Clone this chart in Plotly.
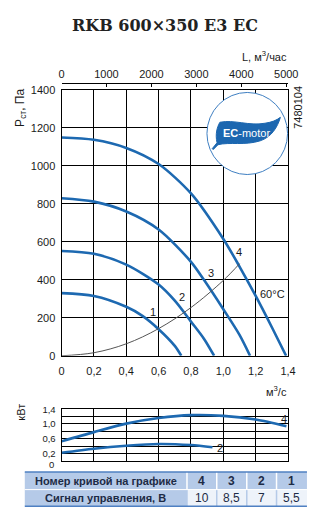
import plotly.graph_objects as go

W, H = 323, 521

# ---------------- data ----------------
flow_ticks = [0, 0.2, 0.4, 0.6, 0.8, 1.0, 1.2, 1.4]
flow_tick_labels = ["0", "0,2", "0,4", "0,6", "0,8", "1,0", "1,2", "1,4"]
pres_ticks = [0, 200, 400, 600, 800, 1000, 1200, 1400]
L_ticks = [0, 1000, 2000, 3000, 4000, 5000]
L_tick_labels = ["0", "1000", "2000", "3000", "4000", "5000"]
pow_ticks = [0.2, 0.6, 1.0, 1.4]
pow_tick_labels = ["0,2", "0,6", "1,0", "1,4"]
pow_zero_label = "0"

q4 = [0, 0.2, 0.4, 0.6, 0.8, 1.0, 1.1, 1.2, 1.3, 1.388]
p4 = [1150, 1138, 1095, 1010, 855, 615, 470, 315, 150, 0]
q3 = [0, 0.2, 0.4, 0.6, 0.8, 0.88, 1.0, 1.1, 1.165]
p3 = [830, 812, 760, 665, 495, 400, 245, 110, 0]
q2 = [0, 0.2, 0.4, 0.6, 0.7, 0.8, 0.88, 0.943]
p2 = [552, 537, 480, 375, 290, 180, 90, 0]
q1 = [0, 0.2, 0.4, 0.5, 0.6, 0.7, 0.74]
p1 = [330, 315, 258, 210, 140, 52, 0]
q_sys = [0, 0.2, 0.4, 0.6, 0.8, 1.0, 1.1]
p_sys = [0, 16, 63, 143, 254, 397, 485]

qw4 = [0, 0.2, 0.4, 0.6, 0.8, 1.0, 1.2, 1.39]
w4 = [0.53, 0.78, 1.01, 1.16, 1.24, 1.22, 1.12, 0.94]
qw2 = [0, 0.2, 0.4, 0.6, 0.8, 0.933]
w2 = [0.22, 0.33, 0.41, 0.46, 0.43, 0.37]

curve_numbers = ["4", "3", "2", "1"]
signals = ["10", "8,5", "7", "5,5"]
row_titles = ["Номер кривой на графике", "Сигнал управления, В"]

BLUE = "#1d69b1"
FONT = "Liberation Sans"
TXT = "#1a1a1a"


def xp(px):
    return px / W


def yp(py):
    return 1 - py / H


fig = go.Figure()

for q, p in [(q4, p4), (q3, p3), (q2, p2), (q1, p1)]:
    fig.add_trace(go.Scatter(x=q, y=p, mode="lines", line=dict(color=BLUE, width=2.6, shape="spline", smoothing=0.8),
                             hoverinfo="skip", showlegend=False, xaxis="x", yaxis="y"))
fig.add_trace(go.Scatter(x=q_sys, y=p_sys, mode="lines", line=dict(color="#555555", width=1, shape="spline"),
                         hoverinfo="skip", showlegend=False, xaxis="x", yaxis="y"))
# top axis carrier
fig.add_trace(go.Scatter(x=L_ticks, y=[0] * len(L_ticks), mode="markers", marker=dict(opacity=0),
                         hoverinfo="skip", showlegend=False, xaxis="x3", yaxis="y"))
for q, w in [(qw4, w4), (qw2, w2)]:
    fig.add_trace(go.Scatter(x=q, y=w, mode="lines", line=dict(color=BLUE, width=2.6, shape="spline", smoothing=0.8),
                             hoverinfo="skip", showlegend=False, xaxis="x2", yaxis="y2"))

xdom = [xp(61), xp(297)]
axis_common = dict(showgrid=True, gridcolor="black", gridwidth=1, showline=True, linecolor="black",
                   linewidth=1, mirror=True, zeroline=False, ticks="")

fig.update_layout(
    width=W, height=H, margin=dict(l=0, r=0, t=0, b=0),
    paper_bgcolor="white", plot_bgcolor="white",
    xaxis=dict(domain=xdom, range=[0, 1.4], anchor="y", tickvals=flow_ticks, ticktext=flow_tick_labels,
               ticklabelstandoff=5, tickfont=dict(family=FONT, size=11, color=TXT), **axis_common),
    yaxis=dict(domain=[yp(358), yp(86)], range=[0, 1400], anchor="x", tickvals=pres_ticks,
               ticklabelstandoff=3, tickfont=dict(family=FONT, size=11, color=TXT), **axis_common),
    xaxis3=dict(overlaying="x", side="top", anchor="free", position=yp(79), range=[0, 5040],
                tickvals=L_ticks, ticktext=L_tick_labels, showgrid=False, showline=True, linecolor="black",
                linewidth=1, ticks="inside", ticklen=3, tickcolor="black", zeroline=False,
                ticklabelstandoff=1, tickfont=dict(family=FONT, size=11, color=TXT)),
    xaxis2=dict(domain=xdom, range=[0, 1.4], anchor="y2", dtick=0.2, showticklabels=False, **axis_common),
    yaxis2=dict(domain=[yp(465.7), yp(412.7)], range=[0, 1.4], anchor="x2", tickvals=pow_ticks,
                ticktext=pow_tick_labels, ticklabelstandoff=3, tickfont=dict(family=FONT, size=9.5, color=TXT),
                minor=dict(dtick=0.2, showgrid=True, gridcolor="black", gridwidth=1), **axis_common),
)

ann = []


def text(x, y, s, size=11, xref="paper", yref="paper", xanchor="center", yanchor="middle", color=TXT,
         family=FONT, angle=0):
    ann.append(dict(x=x, y=y, xref=xref, yref=yref, text=s, showarrow=False, xanchor=xanchor,
                    yanchor=yanchor, textangle=angle, font=dict(family=family, size=size, color=color)))


text(xp(169), yp(20), "<b>RKB 600×350 E3 EC</b>", size=16, family="DejaVu Serif", color="#222")
text(xp(298), yp(51), "L, м<sup>3</sup>/час", size=11, xanchor="right")
text(xp(298), yp(394), "м<sup>3</sup>/с", size=11, xanchor="right")
text(xp(18), yp(104), "P<sub>ст</sub>, Па", size=12, angle=-90)
text(xp(19), yp(416), "кВт", size=11, angle=-90)
text(xp(306.5), yp(104), "7480104", size=11, angle=-90)
# zero label of power axis sits slightly below the axis line
text(xp(55), yp(469), pow_zero_label, size=9.5, xanchor="right")

# curve labels
for lab, x, y in [("1", 0.5676, 230), ("2", 0.7415, 307), ("3", 0.9236, 436), ("4", 1.097, 548),
                  ("60°C", 1.302, 324)]:
    text(x, y, lab, size=11, xref="x", yref="y")
for lab, x, y in [("4", 1.376, 1.13), ("2", 0.979, 0.354)]:
    text(x, y, lab, size=11, xref="x2", yref="y2")

shapes = []
# EC-motor logo
shapes.append(dict(type="circle", xref="paper", yref="paper", x0=xp(212.5), x1=xp(296.5), y0=yp(172.5),
                   y1=yp(88.5), line=dict(color="#3f7fc2", width=1), fillcolor="white", layer="above"))


def P(px, py):
    return f"{xp(px):.5f},{yp(py):.5f}"


leaf = ("M " + P(218, 146) + " L " + P(223, 140) + " C " + P(221, 131) + " " + P(223, 124) + " " + P(226, 119)
        + " C " + P(241, 116) + " " + P(256, 123) + " " + P(273, 120)
        + " C " + P(280, 119) + " " + P(285, 117) + " " + P(289, 114)
        + " C " + P(286, 124) + " " + P(280, 134) + " " + P(268, 138)
        + " C " + P(252, 143) + " " + P(236, 139) + " " + P(224, 142) + " L " + P(219, 147) + " Z")
shapes.append(dict(type="path", xref="paper", yref="paper", path=leaf, fillcolor="#1c67b0",
                   line=dict(color="#1c67b0", width=1), layer="above"))
text(xp(254), yp(129.5), "<b>EC</b>-motor", size=11, color="white")

# table
cols = [22.7, 191.7, 222.7, 254, 285, 316.7]
rows = [477, 495, 512]
HEAD = "#b5cae8"
LIGHT = "#eef3fa"
LINE = "#4f80c2"
shapes.append(dict(type="rect", xref="paper", yref="paper", x0=xp(cols[0]), x1=xp(cols[-1]), y0=yp(rows[1]),
                   y1=yp(rows[0]), fillcolor=HEAD, line=dict(width=0)))
shapes.append(dict(type="rect", xref="paper", yref="paper", x0=xp(cols[0]), x1=xp(cols[1]), y0=yp(rows[2]),
                   y1=yp(rows[1]), fillcolor=HEAD, line=dict(width=0)))
shapes.append(dict(type="rect", xref="paper", yref="paper", x0=xp(cols[1]), x1=xp(cols[-1]), y0=yp(rows[2]),
                   y1=yp(rows[1]), fillcolor=LIGHT, line=dict(width=0)))
for c in cols[1:-1]:
    shapes.append(dict(type="line", xref="paper", yref="paper", x0=xp(c), x1=xp(c), y0=yp(rows[1]),
                       y1=yp(rows[0]), line=dict(color="white", width=1.5)))
    shapes.append(dict(type="line", xref="paper", yref="paper", x0=xp(c), x1=xp(c), y0=yp(rows[2]),
                       y1=yp(rows[1]), line=dict(color=HEAD, width=1.5)))
shapes.append(dict(type="line", xref="paper", yref="paper", x0=xp(cols[0]), x1=xp(cols[-1]), y0=yp(rows[1]),
                   y1=yp(rows[1]), line=dict(color="white", width=1)))
for r in [rows[0], rows[2]]:
    shapes.append(dict(type="line", xref="paper", yref="paper", x0=xp(cols[0]), x1=xp(cols[-1]), y0=yp(r),
                       y1=yp(r), line=dict(color=LINE, width=1.6)))

TBL = "#1d2b45"
ymid0 = (rows[0] + rows[1]) / 2
ymid1 = (rows[1] + rows[2]) / 2
text(xp((cols[0] + cols[1]) / 2), yp(ymid0), "<b>" + row_titles[0] + "</b>", size=11, color=TBL)
text(xp((cols[0] + cols[1]) / 2), yp(ymid1), "<b>" + row_titles[1] + "</b>", size=11, color=TBL)
for i in range(4):
    cx = xp((cols[i + 1] + cols[i + 2]) / 2)
    text(cx, yp(ymid0), "<b>" + curve_numbers[i] + "</b>", size=12, color=TBL)
    text(cx, yp(ymid1), signals[i], size=12, color=TBL)

fig.update_layout(annotations=ann, shapes=shapes)
fig.write_html("out.html")
